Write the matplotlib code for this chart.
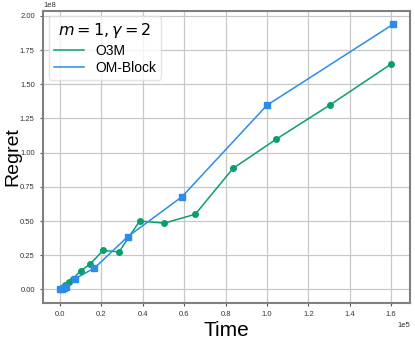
import matplotlib
matplotlib.use('Agg')
import matplotlib.pyplot as plt

# O3M regret vs time
o3m_time = [0, 1000, 2500, 4200, 6400, 10000, 14600, 20800, 28600, 38500, 50500, 65400, 83600, 104500, 130200, 160000]
o3m_regret = [0, 1.0e6, 3.0e6, 5.3e6, 7.8e6, 13.6e6, 18.5e6, 28.5e6, 27.5e6, 50.0e6, 48.5e6, 55.0e6, 88.5e6, 109.9e6, 134.7e6, 164.9e6]

# OM-Block regret vs time
omb_time = [0, 1000, 2000, 2900, 7400, 16700, 32700, 58900, 100000, 161000]
omb_regret = [0, 0.6e6, 1.2e6, 1.9e6, 8.0e6, 15.6e6, 38.5e6, 67.7e6, 134.7e6, 194.0e6]

green = '#0a9e6f'
blue = '#2b8ceb'

plt.rcParams['font.family'] = ['Liberation Sans', 'DejaVu Sans']

fig = plt.figure(figsize=(4.15, 3.39), dpi=100)
ax = fig.add_axes([0.104, 0.107, 0.884, 0.861])

ax.plot(o3m_time, o3m_regret, color=green, lw=1.1, label='O3M')
ax.plot(omb_time, omb_regret, color=blue, lw=1.1, label='OM-Block')
ax.plot(o3m_time, o3m_regret, 'o', color=green, ms=4)
ax.plot(omb_time, omb_regret, 's', color=blue, ms=4.5)

ax.ticklabel_format(axis='both', style='sci', scilimits=(0, 0))

ax.grid(True, color='#c8c8c8', lw=0.9)
ax.set_axisbelow(True)
for s in ax.spines.values():
    s.set_color('#808080')
    s.set_linewidth(1.5)

ax.tick_params(labelsize=5.5, length=2.5, width=0.8, color='#555555', labelcolor='#333333')
ax.xaxis.get_offset_text().set_fontsize(5.5)
ax.yaxis.get_offset_text().set_fontsize(5.5)

ax.set_xlabel('Time', fontsize=15, labelpad=2)
ax.set_ylabel('Regret', fontsize=14)
ax.yaxis.set_label_coords(-0.06, 0.5)

leg = ax.legend(title=r'$m = 1, \gamma = 2$', fontsize=10, title_fontsize=11.5,
                loc='upper left', frameon=True, handlelength=2.2,
                borderaxespad=0.4, labelspacing=0.25, borderpad=0.35)
leg.get_frame().set_edgecolor('#dddddd')

fig.savefig('out.png', dpi=100)
